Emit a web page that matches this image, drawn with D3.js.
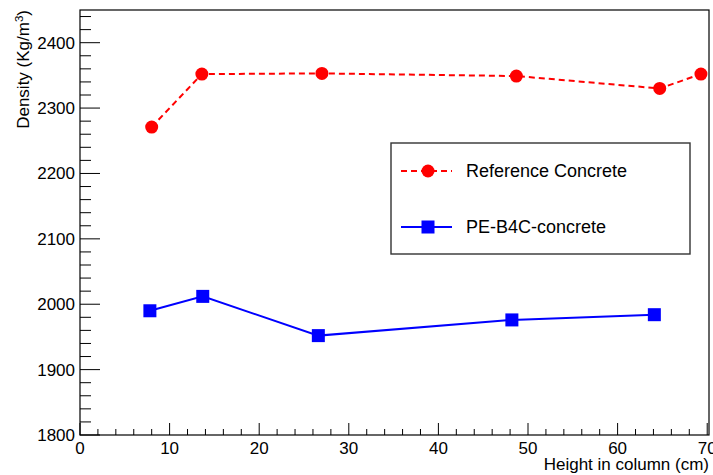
<!DOCTYPE html>
<html>
<head>
<meta charset="utf-8">
<script src="https://cdn.jsdelivr.net/npm/d3@7"></script>
<style>
  body { margin: 0; background: #fff; }
  text { font-family: "Liberation Sans", Arial, Helvetica, sans-serif; fill: #000; }
</style>
</head>
<body>
<svg id="chart" width="713" height="475"></svg>
<script>
// values
var refHeight = [8.0, 13.6, 27.0, 48.7, 64.7, 69.3]
var refDensity = [2271, 2352, 2353, 2349, 2330, 2352]
var pbHeight = [7.8, 13.7, 26.6, 48.2, 64.1]
var pbDensity = [1990, 2012, 1952, 1976, 1984]
var xTicks = [0, 10, 20, 30, 40, 50, 60, 70]
var yTicks = [1800, 1900, 2000, 2100, 2200, 2300, 2400]
var legendNames = ["Reference Concrete", "PE-B4C-concrete"]

var svg = d3.select("#chart")
var fLeft = 80, fRight = 709, fTop = 10, fBottom = 435

var x = d3.scaleLinear().domain([0, 70.2]).range([fLeft, fRight])
var y = d3.scaleLinear().domain([1800, 2450]).range([fBottom, fTop])

// frame
svg.append("rect")
    .attr("x", fLeft).attr("y", fTop)
    .attr("width", fRight - fLeft).attr("height", fBottom - fTop)
    .attr("fill", "none").attr("stroke", "#000").attr("stroke-width", 1.2)

// x axis ticks
var xMinor = d3.range(0, 70.01, 2)
svg.append("g").selectAll("line")
    .data(xMinor)
    .enter().append("line")
        .attr("x1", d => x(d)).attr("x2", d => x(d))
        .attr("y1", fBottom)
        .attr("y2", d => fBottom - (d % 10 == 0 ? 12 : 6))
        .attr("stroke", "#000").attr("stroke-width", 1)

svg.append("g").selectAll("text")
    .data(xTicks)
    .enter().append("text")
        .attr("x", d => x(d)).attr("y", 454)
        .attr("text-anchor", "middle")
        .attr("font-size", "17px")
        .text(d => d)

// y axis ticks
var yMinor = d3.range(1800, 2441, 20)
svg.append("g").selectAll("line")
    .data(yMinor)
    .enter().append("line")
        .attr("x1", fLeft)
        .attr("x2", d => fLeft + (d % 100 == 0 ? 20 : 11))
        .attr("y1", d => y(d)).attr("y2", d => y(d))
        .attr("stroke", "#000").attr("stroke-width", 1)

svg.append("g").selectAll("text")
    .data(yTicks)
    .enter().append("text")
        .attr("x", 75).attr("y", d => y(d) + 6)
        .attr("text-anchor", "end")
        .attr("font-size", "17px")
        .text(d => d)

// axis titles
svg.append("text")
    .attr("x", fRight).attr("y", 470)
    .attr("text-anchor", "end")
    .attr("font-size", "17px")
    .text("Height in column (cm)")

var yt = svg.append("text")
    .attr("transform", "translate(29,10) rotate(-90)")
    .attr("text-anchor", "end")
    .attr("font-size", "17px")
yt.append("tspan").text("Density (Kg/m")
yt.append("tspan").attr("dy", -6).attr("font-size", "11.5px").text("3")
yt.append("tspan").attr("dy", 6).text(")")

// series
var line = d3.line().x(d => x(d[0])).y(d => y(d[1]))
var refData = d3.zip(refHeight, refDensity)
var pbData = d3.zip(pbHeight, pbDensity)

svg.append("path")
    .datum(refData)
    .attr("d", line)
    .attr("fill", "none").attr("stroke", "#ff0000")
    .attr("stroke-width", 2).attr("stroke-dasharray", "6,4")

svg.append("path")
    .datum(pbData)
    .attr("d", line)
    .attr("fill", "none").attr("stroke", "#0000ff")
    .attr("stroke-width", 2)

svg.append("g").selectAll("circle")
    .data(refData)
    .enter().append("circle")
        .attr("cx", d => x(d[0])).attr("cy", d => y(d[1]))
        .attr("r", 6.5)
        .attr("fill", "#ff0000")

svg.append("g").selectAll("rect")
    .data(pbData)
    .enter().append("rect")
        .attr("x", d => x(d[0]) - 6.5).attr("y", d => y(d[1]) - 6.5)
        .attr("width", 13).attr("height", 13)
        .attr("fill", "#0000ff")

// legend
var lg = svg.append("g")
lg.append("rect")
    .attr("x", 391).attr("y", 143)
    .attr("width", 299).attr("height", 111)
    .attr("fill", "#fff").attr("stroke", "#333").attr("stroke-width", 1.4)

var legendY = [171, 227]
lg.append("line")
    .attr("x1", 401).attr("x2", 452)
    .attr("y1", legendY[0]).attr("y2", legendY[0])
    .attr("stroke", "#ff0000").attr("stroke-width", 2).attr("stroke-dasharray", "6,4")
lg.append("circle")
    .attr("cx", 428).attr("cy", legendY[0]).attr("r", 6.5)
    .attr("fill", "#ff0000")
lg.append("line")
    .attr("x1", 401).attr("x2", 452)
    .attr("y1", legendY[1]).attr("y2", legendY[1])
    .attr("stroke", "#0000ff").attr("stroke-width", 2)
lg.append("rect")
    .attr("x", 428 - 6.5).attr("y", legendY[1] - 6.5)
    .attr("width", 13).attr("height", 13)
    .attr("fill", "#0000ff")

lg.selectAll(".lt")
    .data(legendNames)
    .enter().append("text")
        .attr("class", "lt")
        .attr("x", 466).attr("y", (d, i) => legendY[i] + 6)
        .attr("font-size", "18px")
        .text(d => d)
</script>
</body>
</html>
